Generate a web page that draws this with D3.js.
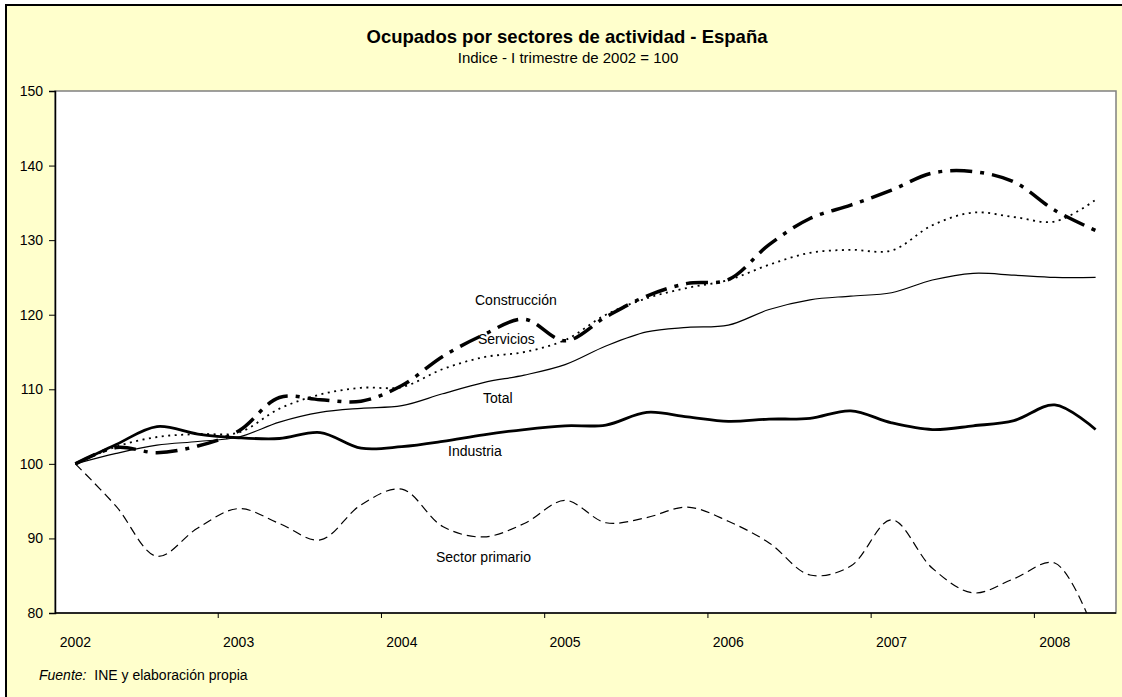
<!DOCTYPE html>
<html>
<head>
<meta charset="utf-8">
<script src="https://cdn.jsdelivr.net/npm/d3@7"></script>
<style>
    body { margin: 0; background: #fff; }
    svg text { font-family: Arial, "Liberation Sans", sans-serif; fill: #000; }
</style>
</head>
<body>
<svg width="1122" height="697"></svg>
<script>
// quarters 2002-I .. 2008-II
const years    = ["2002", "2003", "2004", "2005", "2006", "2007", "2008"];
const quarters = years.flatMap(y => ["I", "II", "III", "IV"].map(q => q + "-" + y)).slice(0, 26);

const yTicks = [80, 90, 100, 110, 120, 130, 140, 150];

const total        = [100, 101.4, 102.5, 103.0, 103.6, 105.6, 106.9, 107.45, 107.8, 109.4, 110.9, 111.9, 113.3,
                      115.8, 117.7, 118.3, 118.6, 120.7, 122.0, 122.5, 122.95, 124.65, 125.55, 125.3, 125.0, 125.0];
const industria    = [100, 102.6, 105.0, 104.0, 103.5, 103.4, 104.2, 102.1, 102.3, 103.0, 103.9, 104.6, 105.1,
                      105.2, 106.9, 106.3, 105.7, 106.0, 106.1, 107.1, 105.5, 104.6, 105.1, 105.8, 107.9, 104.6];
const servicios    = [100, 102.3, 103.6, 104.0, 104.2, 107.4, 109.3, 110.2, 110.3, 112.7, 114.3, 115.0, 116.6,
                      120.0, 122.2, 123.6, 124.65, 126.7, 128.3, 128.7, 128.6, 132.0, 133.7, 133.1, 132.5, 135.4];
const construccion = [100, 102.2, 101.5, 102.4, 104.4, 108.9, 108.6, 108.4, 110.5, 114.4, 117.3, 119.4, 116.5,
                      119.7, 122.5, 124.2, 124.7, 129.4, 132.9, 134.7, 136.7, 139.0, 139.2, 137.8, 134.0, 131.3];
const primario     = [100, 94.3, 87.6, 91.4, 94.0, 92.0, 89.8, 94.5, 96.6, 91.6, 90.2, 92.0, 95.1,
                      92.1, 92.8, 94.2, 92.3, 89.4, 85.1, 86.3, 92.5, 86.0, 82.7, 84.6, 86.7, 77.0];

const series = [
    { name: "Total",           values: total,        width: 1.2, dash: null },
    { name: "Industria",       values: industria,    width: 2.8, dash: null },
    { name: "Servicios",       values: servicios,    width: 1.8, dash: "2,4.5" },
    { name: "Construcción",    values: construccion, width: 3.5, dash: "22,8,4,8" },
    { name: "Sector primario", values: primario,     width: 1.2, dash: "9,5" },
];

const labels = [
    { text: "Construcción",    x: 475, y: 305 },
    { text: "Servicios",       x: 478, y: 344 },
    { text: "Total",           x: 483, y: 403 },
    { text: "Industria",       x: 448, y: 456 },
    { text: "Sector primario", x: 436, y: 562 },
];

const svg = d3.select("svg");
const plotLeft = 55, plotRight = 1116, plotTop = 91, plotBottom = 613;

// chart area
svg.append("rect")
    .attr("x", 6).attr("y", 5)
    .attr("width", 1140).attr("height", 720)
    .attr("fill", "#ffffcc")
    .attr("stroke", "#000")
    .attr("stroke-width", 2);

const x = d3.scaleBand().domain(quarters).range([plotLeft, plotRight]).padding(0);
const y = d3.scaleLinear().domain([80, 150]).range([plotBottom, plotTop]);

// plot area
svg.append("rect")
    .attr("x", plotLeft).attr("y", plotTop)
    .attr("width", plotRight - plotLeft).attr("height", plotBottom - plotTop)
    .attr("fill", "#fff")
    .attr("stroke", "#808080")
    .attr("stroke-width", 1.5);

svg.append("clipPath").attr("id", "plot")
    .append("rect")
        .attr("x", plotLeft).attr("y", plotTop)
        .attr("width", plotRight - plotLeft).attr("height", plotBottom - plotTop);

const line = d3.line()
    .x((d, i) => x(quarters[i]) + x.bandwidth() / 2)
    .y(d => y(d))
    .curve(d3.curveCatmullRom);

svg.append("g")
    .attr("clip-path", "url(#plot)")
    .selectAll("path")
    .data(series)
    .enter().append("path")
        .attr("d", d => line(d.values))
        .attr("fill", "none")
        .attr("stroke", "#000")
        .attr("stroke-width", d => d.width)
        .attr("stroke-dasharray", d => d.dash)
        .attr("stroke-linejoin", "round");

// y axis
const yAxis = svg.append("g")
    .attr("transform", "translate(" + plotLeft + ",0)")
    .call(d3.axisLeft(y).tickValues(yTicks).tickSize(6).tickPadding(6));
yAxis.select(".domain").attr("stroke", "#000").attr("stroke-width", 1.5);
yAxis.selectAll("line").attr("stroke", "#000");
yAxis.selectAll("text").attr("font-size", 14).attr("font-family", "Arial, 'Liberation Sans'");

// x axis: ticks between years, labels under first quarter
const xAxis = svg.append("g");
xAxis.append("line")
    .attr("x1", plotLeft).attr("x2", plotRight)
    .attr("y1", plotBottom).attr("y2", plotBottom)
    .attr("stroke", "#000").attr("stroke-width", 1.5);

const yearStarts = quarters.filter(q => q.startsWith("I-"));

xAxis.selectAll(".tick")
    .data(yearStarts.slice(1))
    .enter().append("line")
        .attr("x1", d => x(d)).attr("x2", d => x(d))
        .attr("y1", plotBottom).attr("y2", plotBottom + 5)
        .attr("stroke", "#000");

xAxis.selectAll("text")
    .data(yearStarts)
    .enter().append("text")
        .attr("x", d => x(d) + x.bandwidth() / 2)
        .attr("y", 647)
        .attr("text-anchor", "middle")
        .attr("font-size", 14)
        .text(d => d.split("-")[1]);

// series labels
svg.selectAll(".label")
    .data(labels)
    .enter().append("text")
        .attr("class", "label")
        .attr("x", d => d.x).attr("y", d => d.y)
        .attr("font-size", 14)
        .text(d => d.text);

// titles
svg.append("text")
    .attr("x", 567).attr("y", 43)
    .attr("text-anchor", "middle")
    .attr("font-size", 18.5)
    .attr("font-weight", "bold")
    .text("Ocupados por sectores de actividad - España");

svg.append("text")
    .attr("x", 568).attr("y", 62.5)
    .attr("text-anchor", "middle")
    .attr("font-size", 15)
    .text("Indice - I trimestre de 2002 = 100");

// source
const source = svg.append("text")
    .attr("x", 39).attr("y", 680)
    .attr("font-size", 14);
source.append("tspan").attr("font-style", "italic").text("Fuente:");
source.append("tspan").text("\u00a0 INE y elaboración propia");
</script>
</body>
</html>
